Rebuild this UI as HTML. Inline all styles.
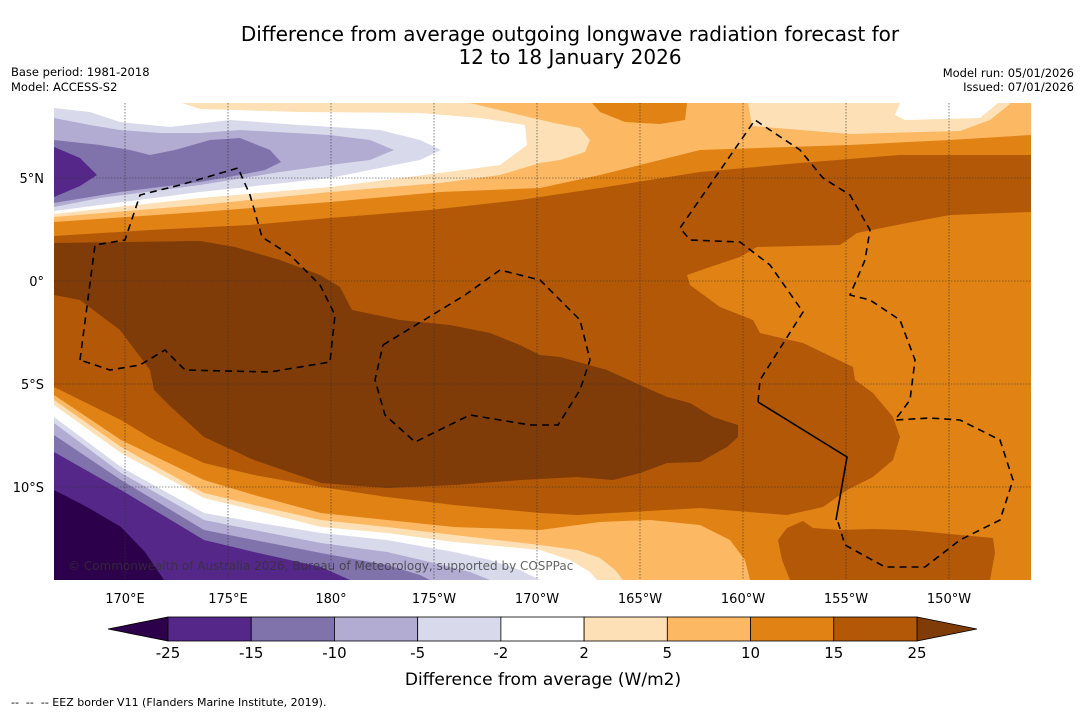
<!DOCTYPE html>
<html><head><meta charset="utf-8"><style>
body{margin:0;background:#fff;width:1085px;height:713px;overflow:hidden;font-family:"DejaVu Sans","Liberation Sans",sans-serif;}
svg{position:absolute;left:0;top:0}
</style></head><body>
<svg id="root" width="1085" height="713" viewBox="0 0 1085 713" font-family="DejaVu Sans, Liberation Sans, sans-serif">
<text x="570" y="41" text-anchor="middle" font-size="20" fill="#000">Difference from average outgoing longwave radiation forecast for</text>
<text x="570" y="64" text-anchor="middle" font-size="20" fill="#000">12 to 18 January 2026</text>
<text x="11" y="76" font-size="11.5">Base period: 1981-2018</text>
<text x="11" y="91" font-size="11.5">Model: ACCESS-S2</text>
<text x="1074" y="77" font-size="11.5" text-anchor="end">Model run: 05/01/2026</text>
<text x="1074" y="91" font-size="11.5" text-anchor="end">Issued: 07/01/2026</text>
<defs><clipPath id="mc"><rect x="54" y="103" width="977" height="477"/></clipPath></defs>
<g clip-path="url(#mc)">
<rect x="54" y="103" width="977" height="477" fill="#b35806"/>
<polygon fill="#e08214" points="54,103 1031,103 1031,155 900,155 800,163 700,172 600,188 520,200 430,210 330,218 250,225 150,230 54,236"/>
<polygon fill="#fdb863" points="54,103 1031,103 1031,135 950,140 850,145 700,150 600,175 540,188 440,192 330,202 200,212 54,222"/>
<polygon fill="#e08214" points="592,103 600,112 625,122 660,124 685,120 687,103"/>
<polygon fill="#fee0b6" points="748,103 752,126 850,134 960,131 990,120 1010,104 1010,103"/>
<polygon fill="#ffffff" points="900,103 895,115 905,120 980,118 998,103"/>
<polygon fill="#fee0b6" points="54,103 470,103 520,115 554,123 580,128 590,140 585,152 560,160 540,163 500,175 440,183 330,192 200,205 54,217"/>
<polygon fill="#ffffff" points="54,103 182,103 200,109 300,112 420,113 480,118 525,125 527,145 500,165 440,173 330,187 200,198 54,214"/>
<polygon fill="#d8daeb" points="54,108 90,112 120,122 170,127 230,120 300,125 380,130 420,140 441,150 420,160 380,168 330,178 200,192 54,211"/>
<polygon fill="#b2abd2" points="54,118 90,125 120,130 160,133 200,133 240,130 330,135 370,140 394,150 370,160 330,165 280,172 200,185 100,198 54,207"/>
<polygon fill="#8073ac" points="54,140 100,145 130,150 150,155 175,150 210,140 240,138 270,150 281,162 265,170 240,175 200,182 120,192 54,203"/>
<polygon fill="#542788" points="54,147 80,158 97,175 80,186 54,197"/>
<polygon fill="#7f3b08" points="54,243 200,241 235,247 280,260 320,275 340,287 352,310 400,320 450,325 490,333 520,345 540,355 560,357 607,370 640,385 667,397 690,403 713,417 738,425 738,437 727,447 700,462 667,463 640,473 613,480 577,477 521,480 454,485 387,488 321,483 254,460 204,437 171,407 154,390 150,370 120,330 80,300 54,295"/>
<polygon fill="#e08214" points="1031,212 950,215 907,223 857,233 840,245 757,247 740,257 707,268 687,275 690,285 720,307 753,320 760,333 803,343 853,367 855,380 873,393 893,417 900,437 893,460 873,477 847,490 823,507 787,515 700,508 577,515 540,513 454,505 387,497 321,487 254,475 204,463 154,440 121,420 54,387 54,580 1031,580"/>
<polygon fill="#b35806" points="778,540 787,528 803,521 813,528 840,530 873,529 907,530 993,538 995,553 990,580 790,580 782,560"/>
<polygon fill="#fdb863" points="54,395 121,440 204,480 254,495 321,513 387,520 454,527 540,530 600,522 650,520 700,525 730,540 745,560 750,580 54,580"/>
<polygon fill="#fee0b6" points="54,400 121,447 204,493 254,505 321,520 387,527 454,535 540,545 577,550 600,558 615,570 623,580 54,580"/>
<polygon fill="#ffffff" points="54,405 121,453 204,498 254,510 321,527 387,533 454,542 540,550 570,560 590,572 597,580 54,580"/>
<polygon fill="#d8daeb" points="54,417 121,467 204,513 254,522 321,533 387,540 454,552 490,560 520,570 540,580 54,580"/>
<polygon fill="#b2abd2" points="54,423 121,473 204,520 254,530 321,543 387,552 430,562 470,572 490,580 54,580"/>
<polygon fill="#8073ac" points="54,435 121,480 204,530 254,540 321,553 387,565 420,575 430,580 54,580"/>
<polygon fill="#542788" points="54,452 121,490 204,540 254,552 321,567 350,580 54,580"/>
<polygon fill="#2d004b" points="54,490 87,507 121,527 145,552 164,580 54,580"/>
<g id="grid" stroke="#333" stroke-width="0.6" stroke-dasharray="1.5,1.5"></g>
<g fill="none" stroke="#000" stroke-width="1.6" stroke-dasharray="7,5">
<polyline points="80,360 95,245 125,240 140,195 180,185 238,168 250,195 262,237 290,255 320,285 335,315 330,362 270,372 185,370 165,350 140,365 110,370 80,360"/>
<polyline points="383,345 465,295 500,270 540,280 580,320 590,360 580,390 558,425 530,425 470,415 415,442 385,415 375,380 383,345"/>
<polyline points="758,402 760,380 803,312 770,265 740,242 690,240 680,228 755,120 800,150 823,178 850,195 870,230 865,260 850,295 870,300 900,320 915,360 910,400 895,420 930,418 960,420 1000,440 1013,480 1000,520 960,540 925,567 885,567 845,545 838,522"/>
<polyline stroke-dasharray="none" points="758,402 847,457 836,520"/>
</g>
<text x="68" y="570" font-size="12" fill="#333" fill-opacity="0.75">© Commonwealth of Australia 2026, Bureau of Meteorology, supported by COSPPac</text>
</g>
<g id="axes"></g>
<g id="cbar"></g>
<text x="543" y="685" text-anchor="middle" font-size="17">Difference from average (W/m2)</text>
<text x="11" y="706" font-size="11">-- &#160;-- &#160;-- EEZ border V11 (Flanders Marine Institute, 2019).</text>
</svg>
<script>
const lonLabels = ["170°E","175°E","180°","175°W","170°W","165°W","160°W","155°W","150°W"];
const lonValues = [170,175,180,185,190,195,200,205,210];
const latLabels = ["5°N","0°","5°S","10°S"];
const latValues = [5,0,-5,-10];
const levels = [-25,-15,-10,-5,-2,2,5,10,15,25];
const levelColors = ["#542788","#8073ac","#b2abd2","#d8daeb","#ffffff","#fee0b6","#fdb863","#e08214","#b35806"];
const underColor = "#2d004b";
const overColor = "#7f3b08";

const NS="http://www.w3.org/2000/svg";
const xLon = lon => 125 + (lon-170)*20.6;
const yLat = lat => 281 - lat*20.6;
function mk(tag, attrs){const e=document.createElementNS(NS,tag);for(const k in attrs)e.setAttribute(k,attrs[k]);return e;}
const grid=document.getElementById('grid'), axes=document.getElementById('axes'), cbar=document.getElementById('cbar');
lonValues.forEach((v,i)=>{
  const l=mk('line',{x1:xLon(v),x2:xLon(v),y1:103,y2:580});
  
  
  grid.appendChild(l);
  const t=mk('text',{x:xLon(v),y:603,'text-anchor':'middle','font-size':13});
  
  
  t.textContent=lonLabels[i];axes.appendChild(t);
});
latValues.forEach((v,i)=>{
  const l=mk('line',{x1:54,x2:1031,y1:yLat(v),y2:yLat(v)});
  
  
  grid.appendChild(l);
  const t=mk('text',{x:44,y:yLat(v)+5,'text-anchor':'end','font-size':13});
  
  
  t.textContent=latLabels[i];axes.appendChild(t);
});
const cbX0=168, cbX1=917, cbY=617, cbH=24;
const step=(cbX1-cbX0)/(levels.length-1);
const cx = i => cbX0 + i*step;
const left=mk('polygon',{points:`108,${cbY+cbH/2} ${cbX0},${cbY} ${cbX0},${cbY+cbH}`,fill:underColor,stroke:'#000','stroke-width':0.8});


cbar.appendChild(left);
const right=mk('polygon',{points:`977,${cbY+cbH/2} ${cbX1},${cbY} ${cbX1},${cbY+cbH}`,fill:overColor,stroke:'#000','stroke-width':0.8});


cbar.appendChild(right);
levelColors.forEach((c,i)=>{
  const r=mk('rect',{x:cx(i),y:cbY,width:step,height:cbH,fill:c,stroke:'#000','stroke-width':0.8});
  
  
  cbar.appendChild(r);
});
levels.forEach((v,i)=>{
  const t=mk('text',{x:cx(i),y:658,'text-anchor':'middle','font-size':15});
  
  
  t.textContent=String(v);cbar.appendChild(t);
});
</script>
</body></html>
